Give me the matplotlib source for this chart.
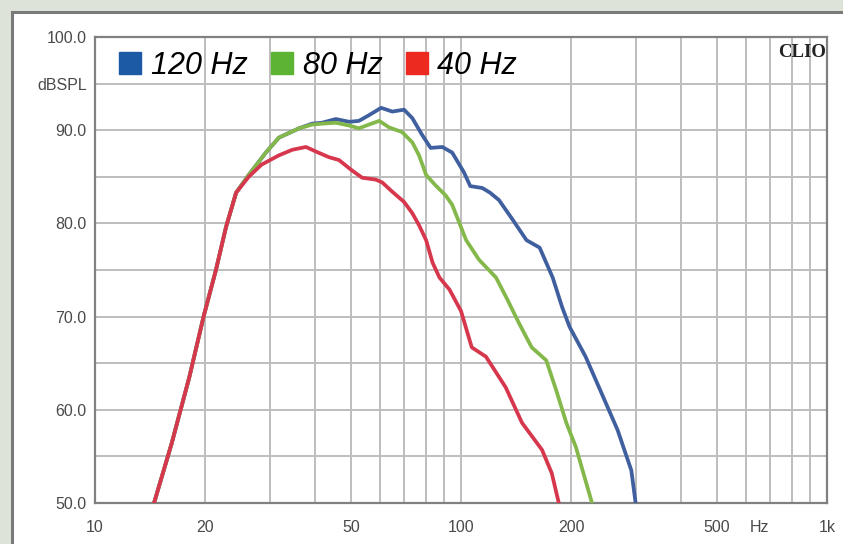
import matplotlib
matplotlib.use("Agg")
import matplotlib.pyplot as plt
from matplotlib.lines import Line2D
from matplotlib.patches import Rectangle
import matplotlib.ticker as mticker

# (Hz, dB SPL)
rise_f = [14.5, 16.2, 18.1, 19.8, 21.4, 22.8, 24.3]
rise_db = [50, 56.4, 63.5, 70, 75, 79.6, 83.3]

red_f = rise_f + [26.3, 28.5, 31.8, 34.6, 37.7, 40.2, 43.6, 46.4, 50.3, 53.7, 58.5, 60.9, 64.9,
                  69.9, 73.6, 76.8, 80.3, 83.6, 87.3, 93, 100, 107, 117, 132.5, 146.8, 166.5, 177, 185]
red_db = rise_db + [85.0, 86.3, 87.3, 87.9, 88.2, 87.7, 87.1, 86.8, 85.7, 84.9, 84.7, 84.4, 83.4,
                    82.3, 81.1, 79.8, 78.2, 75.8, 74.2, 72.9, 70.6, 66.7, 65.7, 62.4, 58.6, 55.7, 53.2, 50]

green_f = rise_f + [26.3, 29.3, 31.8, 36.1, 39.2, 41.7, 45.5, 49.5, 52.6, 56, 59.8, 63.6, 69,
                    73.6, 76.8, 80.3, 85.1, 90.8, 94.6, 103.3, 112, 124.6, 134, 144, 156, 171, 182,
                    194, 206, 228]
green_db = rise_db + [85.2, 87.6, 89.2, 90.2, 90.6, 90.7, 90.8, 90.5, 90.2, 90.6, 91.0, 90.3, 89.8,
                      88.7, 87.3, 85.2, 84.1, 83.0, 82.0, 78.2, 76.1, 74.2, 71.8, 69.3, 66.7, 65.3, 62.1,
                      58.6, 56, 50]

blue_f = rise_f + [26.3, 29.3, 31.8, 36.1, 39.2, 41.7, 45.5, 49.5, 52.6, 56, 60.5, 64.9, 69.9,
                   73.6, 78.3, 82.6, 88.9, 94.6, 101.8, 106, 114.3, 120, 127, 138.4, 151, 164, 178,
                   189, 198, 219, 242, 268, 292, 300]
blue_db = rise_db + [85.2, 87.6, 89.2, 90.2, 90.7, 90.8, 91.2, 90.9, 91.0, 91.6, 92.4, 92.0, 92.2,
                     91.3, 89.5, 88.1, 88.2, 87.6, 85.5, 84.0, 83.8, 83.3, 82.5, 80.4, 78.2, 77.4, 74.2,
                     71.0, 68.9, 65.7, 61.8, 57.8, 53.5, 50]

series_names = ["120 Hz", "80 Hz", "40 Hz"]
line_colors = ["#3f5f9f", "#84b84a", "#d6374d"]
box_colors = ["#1d5aa6", "#5db433", "#ec2a1f"]

x_grid = [10, 20, 30, 40, 50, 60, 70, 80, 90, 100, 200, 300, 400, 500, 600, 700, 800, 900, 1000]
x_labels = {10: "10", 20: "20", 50: "50", 100: "100", 200: "200", 500: "500", 1000: "1k"}
y_grid = list(range(50, 101, 5))

W, H = 843, 544
fig = plt.figure(figsize=(W / 100, H / 100), dpi=100)
fig.patch.set_facecolor("#dee3da")
fig.add_artist(Rectangle((13 / W, 0), 1, (H - 13) / H, transform=fig.transFigure,
                         facecolor="white", edgecolor="none", zorder=0))
fig.add_artist(Line2D([12 / W, 12 / W], [0, (H - 12) / H], transform=fig.transFigure,
                      color="#7a7a7a", lw=2.2))
fig.add_artist(Line2D([12 / W, 1], [(H - 12) / H, (H - 12) / H], transform=fig.transFigure,
                      color="#7a7a7a", lw=2.2))

ax = fig.add_axes([95 / W, 1 - 503 / H, (827 - 95) / W, (503 - 37) / H])
ax.set_facecolor("white")
ax.set_xscale("log")
ax.set_xlim(10, 1000)
ax.set_ylim(50, 100)

for f, db, c in [(blue_f, blue_db, line_colors[0]),
                 (green_f, green_db, line_colors[1]),
                 (red_f, red_db, line_colors[2])]:
    ax.plot(f, db, color=c, lw=2.7, solid_joinstyle="round", solid_capstyle="round", zorder=3)

# ticks / grid
xt = x_grid + [652]
ax.xaxis.set_major_locator(mticker.FixedLocator(xt))
ax.xaxis.set_minor_locator(mticker.NullLocator())
ax.set_xticklabels([x_labels.get(v, "") if v != 652 else "Hz" for v in xt])
ax.yaxis.set_major_locator(mticker.FixedLocator(y_grid))
ylab = []
for v in y_grid:
    if v % 10 == 0:
        ylab.append("%.1f" % v)
    elif v == 95:
        ylab.append("dBSPL")
    else:
        ylab.append("")
ax.set_yticklabels(ylab)
ax.tick_params(axis="both", length=0, labelsize=11.5, labelcolor="#4a4a4a")
ax.tick_params(axis="x", pad=12)
ax.tick_params(axis="y", pad=6)
for lab in ax.get_xticklabels() + ax.get_yticklabels():
    lab.set_family("Liberation Sans")

for v in x_grid:
    ax.axvline(v, color="#bdbdbd", lw=1.4, zorder=1)
for v in y_grid:
    ax.axhline(v, color="#bdbdbd", lw=1.4, zorder=1)

for s in ax.spines.values():
    s.set_color("#808080")
    s.set_linewidth(1.6)

handles = [Line2D([], [], marker="s", ls="", markersize=16, markerfacecolor=c, markeredgecolor=c)
           for c in box_colors]
ax.legend(handles, series_names, loc="upper left", bbox_to_anchor=(0.02, 0.99), ncol=3,
          frameon=False, handlelength=0.75, handletextpad=0.3, columnspacing=0.75,
          borderpad=0.3, borderaxespad=0.0,
          prop={"family": "Liberation Sans", "style": "italic", "size": 22})

ax.text(0.998, 0.985, "CLIO", transform=ax.transAxes, ha="right", va="top",
        fontsize=13.5, fontweight="bold", family="Liberation Serif", color="#222222")

fig.savefig("out.png", dpi=100, facecolor=fig.get_facecolor())
